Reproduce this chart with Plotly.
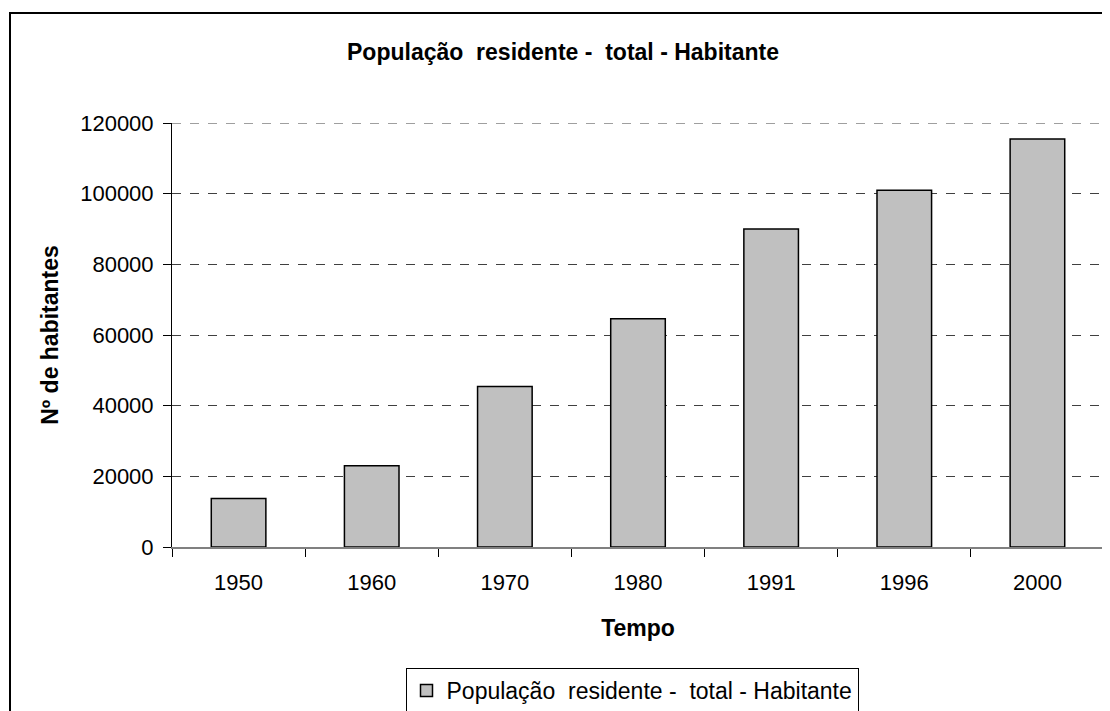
import plotly.graph_objects as go

years = ["1950", "1960", "1970", "1980", "1991", "1996", "2000"]
population = [13700, 23000, 45400, 64600, 90000, 101000, 115500]
y_ticks = [0, 20000, 40000, 60000, 80000, 100000, 120000]

series_name = "População\u00a0 residente -\u00a0 total - Habitante"

OFF = 8  # default page body margin
W, H = 1110 - OFF, 711 - OFF
L, R, T, B = 172 - OFF, 6, 123 - OFF, 164
pw, ph = W - L - R, H - T - B


def px_x(p):
    return (p - OFF - L) / pw


def px_y(p):
    return (H - B - (p - OFF)) / ph


fig = go.Figure()
fig.add_trace(go.Bar(
    x=years, y=population, name=series_name,
    marker=dict(color="#C0C0C0", line=dict(color="black", width=1.5)),
    showlegend=True,
))

font = "Liberation Sans, Arial, sans-serif"
fig.update_layout(
    width=W, height=H,
    margin=dict(l=L, r=R, t=T, b=B, autoexpand=False),
    paper_bgcolor="white", plot_bgcolor="white",
    font=dict(family=font, size=22, color="black"),
    bargap=0.59,
    title=dict(text="<b>" + series_name + "</b>", x=(563 - OFF) / W, xref="container", xanchor="center",
               y=1 - (52 - OFF) / H, yref="container", yanchor="middle",
               font=dict(size=23, family=font, color="black")),
    showlegend=True,
    legend=dict(orientation="h", x=px_x(632), xanchor="center", y=px_y(668), yanchor="top",
                bordercolor="black", borderwidth=1, bgcolor="white",
                font=dict(size=23, family=font), itemwidth=30, traceorder="normal"),
    xaxis=dict(
        type="category", showline=True, linecolor="#808080", linewidth=2,
        ticks="outside", tickson="boundaries", ticklen=8, tickcolor="black", tickwidth=1,
        ticklabelstandoff=15,
        showgrid=False, zeroline=False,
        title=dict(text="<b>Tempo</b>", font=dict(size=23, family=font), standoff=25),
    ),
    yaxis=dict(
        range=[0, max(y_ticks)], tickvals=y_ticks, ticktext=[str(v) for v in y_ticks],
        showline=True, linecolor="black", linewidth=1,
        ticks="outside", ticklen=8, tickcolor="black",
        ticklabelstandoff=5,
        showgrid=True, gridcolor="#404040", griddash="dash", gridwidth=1,
        zeroline=False,
        title=dict(text="<b>Nº de habitantes</b>", font=dict(size=23, family=font), standoff=15),
    ),
)

# top gridline (plotly omits the gridline that sits on the plot edge)
fig.add_shape(type="line", xref="paper", yref="y", x0=0, x1=1,
              y0=max(y_ticks), y1=max(y_ticks),
              line=dict(color="#404040", width=1, dash="dash"), layer="below")

fig.add_shape(type="rect", xref="paper", yref="paper",
              x0=px_x(10), x1=px_x(1130), y0=px_y(730), y1=px_y(13),
              line=dict(color="black", width=2), fillcolor="rgba(0,0,0,0)", layer="below")

fig.write_html("out.html")
